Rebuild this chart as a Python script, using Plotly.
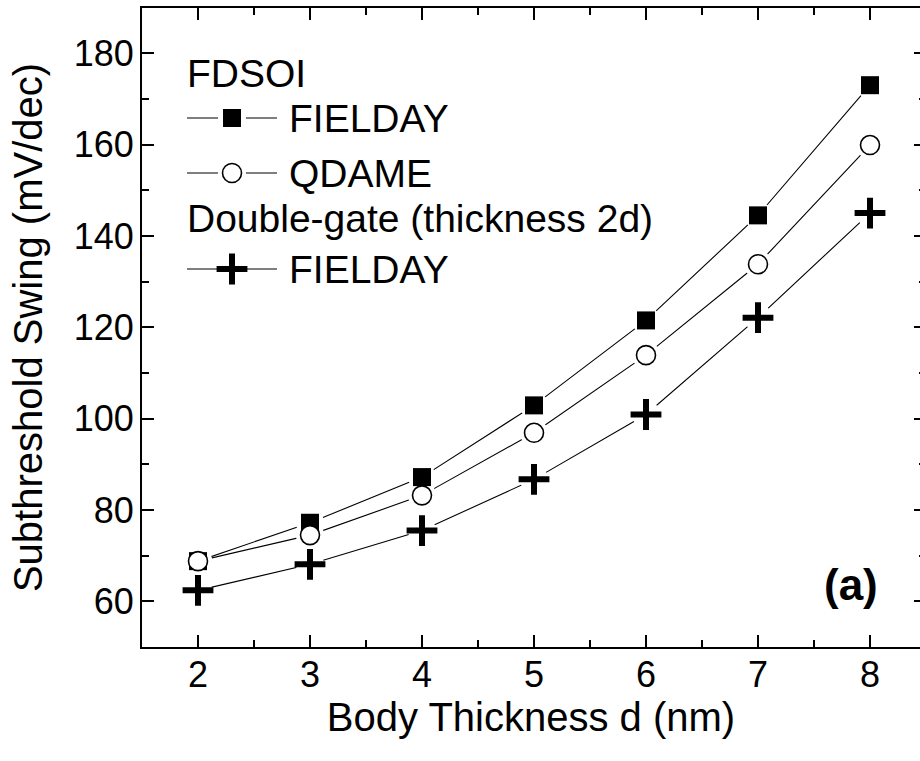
import plotly.graph_objects as go

# ---------------- data ----------------
thickness = [2, 3, 4, 5, 6, 7, 8]
fdsoi_fieldday = [68.8, 77.2, 87.2, 102.9, 121.5, 144.5, 173.0]
fdsoi_qdame = [68.8, 74.5, 83.2, 96.9, 113.9, 133.8, 159.9]
dg_fieldday = [62.4, 68.1, 75.5, 86.7, 100.9, 122.1, 145.0]

x_ticks = [2, 3, 4, 5, 6, 7, 8]
y_ticks = [60, 80, 100, 120, 140, 160, 180]

x_title = "Body Thickness d (nm)"
y_title = "Subthreshold Swing (mV/dec)"
group1_title = "FDSOI"
group2_title = "Double-gate (thickness 2d)"
series_names = ["FIELDAY", "QDAME", "FIELDAY"]
panel_label = "(a)"

# ---------------- styles / layout ----------------
FONT = "Liberation Sans, Arial, sans-serif"
W, H = 920, 761
ML, MR, MT, MB = 142, 0, 8, 114   # right frame edge lies just outside the picture
PX_PER_X = 112.0
X_RANGE = [1.5, 1.5 + (W - ML - MR) / PX_PER_X]
Y_RANGE = [50, 189.9]

marker_styles = [
    dict(symbol="square", size=18, color="black", line=dict(width=0)),
    dict(symbol="circle", size=19, color="white", line=dict(color="black", width=1.6)),
    dict(symbol="cross-thin", size=22, color="black", line=dict(color="black", width=6)),
]
HALO = dict(symbol="circle", size=28, color="white", line=dict(width=0))

series = [fdsoi_fieldday, fdsoi_qdame, dg_fieldday]

fig = go.Figure()

# lines
for ys in series:
    fig.add_trace(go.Scatter(x=thickness, y=ys, mode="lines",
                             line=dict(color="black", width=1.1),
                             showlegend=False, hoverinfo="skip"))
# halos (gaps between lines and markers)
for ys in series:
    fig.add_trace(go.Scatter(x=thickness, y=ys, mode="markers", marker=HALO,
                             showlegend=False, hoverinfo="skip"))
# markers
for ys, ms, nm in zip(series, marker_styles, series_names):
    fig.add_trace(go.Scatter(x=thickness, y=ys, mode="markers", marker=ms,
                             name=nm, showlegend=False))

# dummy trace so the right-hand tick axis is drawn
fig.add_trace(go.Scatter(x=[None], y=[None], yaxis="y2", showlegend=False,
                         hoverinfo="skip"))

# ---------------- custom legend (pixel layout on hidden overlay axes) -------------
LEG_X0, LEG_X1, LEG_XM, LEG_TX = 187, 277, 232, 289
leg_rows_y = [118, 173, 269]
head_rows_y = [73, 218]
for ms, ly in zip(marker_styles, leg_rows_y):
    fig.add_trace(go.Scatter(x=[LEG_X0, LEG_X1], y=[ly, ly], mode="lines",
                             line=dict(color="#555555", width=1.4),
                             xaxis="x3", yaxis="y3", showlegend=False, hoverinfo="skip"))
    fig.add_trace(go.Scatter(x=[LEG_XM], y=[ly], mode="markers", marker=HALO,
                             xaxis="x3", yaxis="y3", showlegend=False, hoverinfo="skip"))
    fig.add_trace(go.Scatter(x=[LEG_XM], y=[ly], mode="markers", marker=ms,
                             xaxis="x3", yaxis="y3", showlegend=False, hoverinfo="skip"))

LEG_FONT = dict(family=FONT, size=39, color="black")
annotations = []
for txt, ly in zip([group1_title, group2_title], head_rows_y):
    annotations.append(dict(x=LEG_X0 - 2, y=ly, xref="x3", yref="y3", text=txt,
                            showarrow=False, xanchor="left", yanchor="middle", font=LEG_FONT))
for txt, ly in zip(series_names, leg_rows_y):
    annotations.append(dict(x=LEG_TX - 2, y=ly, xref="x3", yref="y3", text=txt,
                            showarrow=False, xanchor="left", yanchor="middle", font=LEG_FONT))
annotations.append(dict(x=851, y=584, xref="x3", yref="y3", text="<b>" + panel_label + "</b>",
                        showarrow=False, xanchor="center", yanchor="middle",
                        font=dict(family=FONT, size=44, color="black")))

TICKFONT = dict(family=FONT, size=36, color="black")
common_axis = dict(showgrid=False, zeroline=False, ticks="inside", ticklen=12, tickwidth=2,
                   tickcolor="black", linecolor="black", linewidth=2, tickfont=TICKFONT,
                   automargin=False, showline=True)

fig.update_layout(
    width=W, height=H,
    margin=dict(l=ML, r=MR, t=MT, b=MB, pad=0, autoexpand=False),
    paper_bgcolor="white", plot_bgcolor="white",
    showlegend=False,
    annotations=annotations,
    xaxis=dict(range=X_RANGE, tickvals=x_ticks, mirror="ticks",
               minor=dict(dtick=0.5, ticks="inside", ticklen=7, tickwidth=2, tickcolor="black"),
               title=dict(text=x_title, font=dict(family=FONT, size=40, color="black"), standoff=2),
               ticklabelstandoff=-5,
               **common_axis),
    yaxis=dict(range=Y_RANGE, tickvals=y_ticks, mirror=False,
               minor=dict(dtick=10, ticks="inside", ticklen=7, tickwidth=2, tickcolor="black"),
               title=dict(text=y_title, font=dict(family=FONT, size=40, color="black"), standoff=19),
               ticklabelstandoff=-1,
               **common_axis),
    yaxis2=dict(range=Y_RANGE, overlaying="y", side="right", anchor="x", showline=False,
                showgrid=False, zeroline=False, tickvals=y_ticks, ticks="inside", ticklen=6,
                tickwidth=2, tickcolor="black", showticklabels=False, automargin=False,
                minor=dict(dtick=10, ticks="inside", ticklen=1, tickwidth=2, tickcolor="black")),
    xaxis3=dict(range=[ML, W - MR], overlaying="x", visible=False, anchor="y3"),
    yaxis3=dict(range=[H - MB, MT], overlaying="y", visible=False, anchor="x3"),
)

# page chrome: no body margin / scrollbars so the 920x761 figure fills the window exactly
fig.write_html(
    "out.html",
    config={"displayModeBar": False},
    post_script="document.body.style.margin='0';document.body.style.overflow='hidden';",
)
